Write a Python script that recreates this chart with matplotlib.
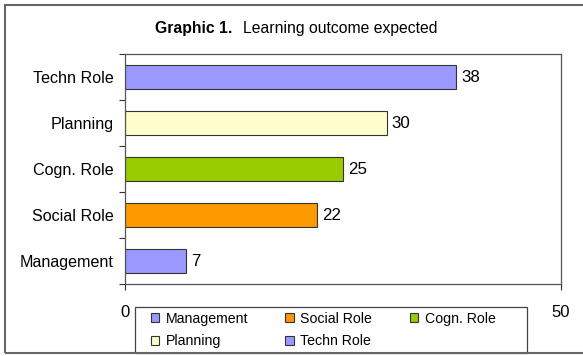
import matplotlib.pyplot as plt
from matplotlib.patches import Rectangle

categories = ['Management', 'Social Role', 'Cogn. Role', 'Planning', 'Techn Role']
values = [7, 22, 25, 30, 38]
colors = ['#9999FF', '#FF9900', '#99CC00', '#FFFFCC', '#9999FF']

plt.rcParams['font.family'] = ['Liberation Sans', 'DejaVu Sans']

fig = plt.figure(figsize=(5.83, 3.56), dpi=100)
ax = fig.add_axes([125 / 583, 72 / 356, 436 / 583, 230 / 356])

ypos = list(range(len(categories)))
bars = ax.barh(ypos, values, height=0.52, color=colors,
               edgecolor='#333333', linewidth=0.8)
for y, v in zip(ypos, values):
    ax.text(v + 0.6, y, str(v), va='center', ha='left', fontsize=12.2)

ax.set_xlim(0, 50)
ax.set_ylim(-0.5, len(categories) - 0.5)
ax.set_yticks(ypos)
ax.set_yticklabels(categories, fontsize=11.6)
ax.set_yticks([i - 0.5 for i in range(len(categories) + 1)], minor=True)
ax.tick_params(axis='y', which='major', length=0, pad=8)
ax.tick_params(axis='y', which='minor', length=4, width=0.8, color='#333333')
ax.set_xticks([0, 50])
ax.set_xticklabels(['0', '50'], fontsize=12)
ax.tick_params(axis='x', length=4, width=0.8, color='#333333', pad=11)
for s in ax.spines.values():
    s.set_color('#555555')
    s.set_linewidth(0.9)

# title in two parts (bold + normal)
fig.text(155 / 583, 1 - 28 / 356, 'Graphic 1.', fontweight='bold',
         fontsize=11.3, ha='left', va='center')
fig.text(243 / 583, 1 - 28 / 356, 'Learning outcome expected',
         fontsize=11.3, ha='left', va='center')

# legend, filled row by row; frame drawn separately
order = [0, 3, 1, 4, 2]
leg = fig.legend([bars[i] for i in order], [categories[i] for i in order],
                 ncol=3, loc='upper left',
                 bbox_to_anchor=(147 / 583, 1 - 308 / 356),
                 borderaxespad=0, fontsize=10.2, frameon=False,
                 handlelength=0.6, handleheight=0.6, handletextpad=0.45,
                 labelspacing=0.6, borderpad=0.25, columnspacing=2.65)
fig.patches.append(Rectangle((135 / 583, 3 / 356), 392 / 583, 46 / 356,
                             transform=fig.transFigure, fill=False,
                             edgecolor='#444444', linewidth=0.9))

# outer chart border (cut off on the right)
fig.patches.append(Rectangle((5 / 583, 3 / 356), 600 / 583, 348 / 356,
                             transform=fig.transFigure, fill=False,
                             edgecolor='#666666', linewidth=1.5))

fig.savefig('out.png', dpi=100)
